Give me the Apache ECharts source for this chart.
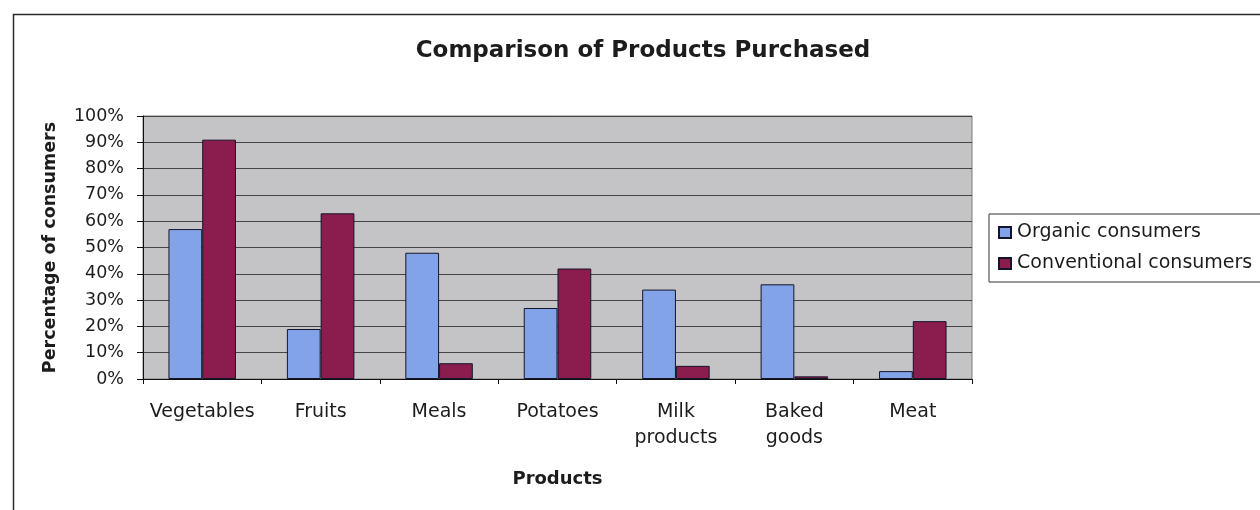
<!DOCTYPE html>
<html>
<head>
<meta charset="utf-8">
<title>Comparison of Products Purchased</title>
<script src="https://cdn.jsdelivr.net/npm/echarts@6/dist/echarts.min.js"></script>
<style>
  html, body { margin: 0; padding: 0; background: #ffffff; }
  #chart { width: 1260px; height: 510px; }
</style>
</head>
<body>
<div id="chart"></div>
<script>
// Share of consumers buying each product group (percent)
const categories = ['Vegetables', 'Fruits', 'Meals', 'Potatoes', 'Milk\nproducts', 'Baked\ngoods', 'Meat'];
const organicConsumers = [57, 19, 48, 27, 34, 36, 3];
const conventionalConsumers = [91, 63, 6, 42, 5, 1, 22];
const seriesNames = ['Organic consumers', 'Conventional consumers'];

const FONT = '"DejaVu Sans", "Liberation Sans", Arial, sans-serif';
const TEXT = '#1c1c1c';

const chart = echarts.init(document.getElementById('chart'), null, { renderer: 'canvas' });

chart.setOption({
  backgroundColor: '#ffffff',
  animation: false,
  textStyle: { fontFamily: FONT, color: TEXT },
  graphic: [
    {
      // outer chart frame
      type: 'rect',
      left: 11, top: 12,
      shape: { width: 1270, height: 520 },
      style: { fill: 'none', stroke: '#2b2b2b', lineWidth: 1.5 },
      silent: true
    }
  ],
  title: {
    text: 'Comparison of Products Purchased',
    left: 638,
    top: 35,
    textAlign: 'center',
    textStyle: { fontFamily: FONT, fontSize: 23, fontWeight: 'bold', color: TEXT }
  },
  legend: {
    orient: 'vertical',
    left: 989,
    top: 214,
    padding: [9, 30, 9, 9],
    itemGap: 12,
    itemWidth: 12,
    itemHeight: 11,
    borderColor: '#333333',
    borderWidth: 1,
    backgroundColor: '#ffffff',
    icon: 'rect',
    data: seriesNames,
    textStyle: { fontFamily: FONT, fontSize: 19, color: TEXT, padding: [0, 0, 0, 1] }
  },
  grid: {
    left: 143,
    right: 288,
    top: 116,
    bottom: 131,
    show: true,
    backgroundColor: '#c4c4c6',
    borderColor: '#7a7a7a',
    borderWidth: 1
  },
  xAxis: {
    type: 'category',
    data: categories,
    name: 'Products',
    nameLocation: 'middle',
    nameGap: 91,
    nameTextStyle: { fontFamily: FONT, fontSize: 18, fontWeight: 'bold', color: TEXT },
    axisLine: { lineStyle: { color: '#111111', width: 1 } },
    axisTick: { show: true, length: 5, lineStyle: { color: '#111111' } },
    axisLabel: {
      interval: 0,
      margin: 20,
      fontFamily: FONT,
      fontSize: 19,
      lineHeight: 26,
      color: TEXT
    }
  },
  yAxis: {
    type: 'value',
    min: 0,
    max: 100,
    interval: 10,
    name: 'Percentage of consumers',
    nameLocation: 'middle',
    nameGap: 84,
    nameRotate: 90,
    nameTextStyle: { fontFamily: FONT, fontSize: 17.5, fontWeight: 'bold', color: TEXT },
    axisLine: { show: true, lineStyle: { color: '#111111', width: 1 } },
    axisTick: { show: true, length: 6, lineStyle: { color: '#111111' } },
    axisLabel: {
      formatter: '{value}%',
      margin: 19,
      fontFamily: FONT,
      fontSize: 17.5,
      color: TEXT
    },
    splitLine: { show: true, lineStyle: { color: '#454545', width: 1.2 } }
  },
  series: [
    {
      name: seriesNames[0],
      type: 'bar',
      data: organicConsumers,
      barGap: '0%',
      barCategoryGap: '43%',
      itemStyle: { color: '#82a3e8', borderColor: '#15152a', borderWidth: 1 }
    },
    {
      name: seriesNames[1],
      type: 'bar',
      data: conventionalConsumers,
      barGap: '0%',
      barCategoryGap: '43%',
      itemStyle: { color: '#8a1c4e', borderColor: '#15152a', borderWidth: 1 }
    }
  ]
});
</script>
</body>
</html>
